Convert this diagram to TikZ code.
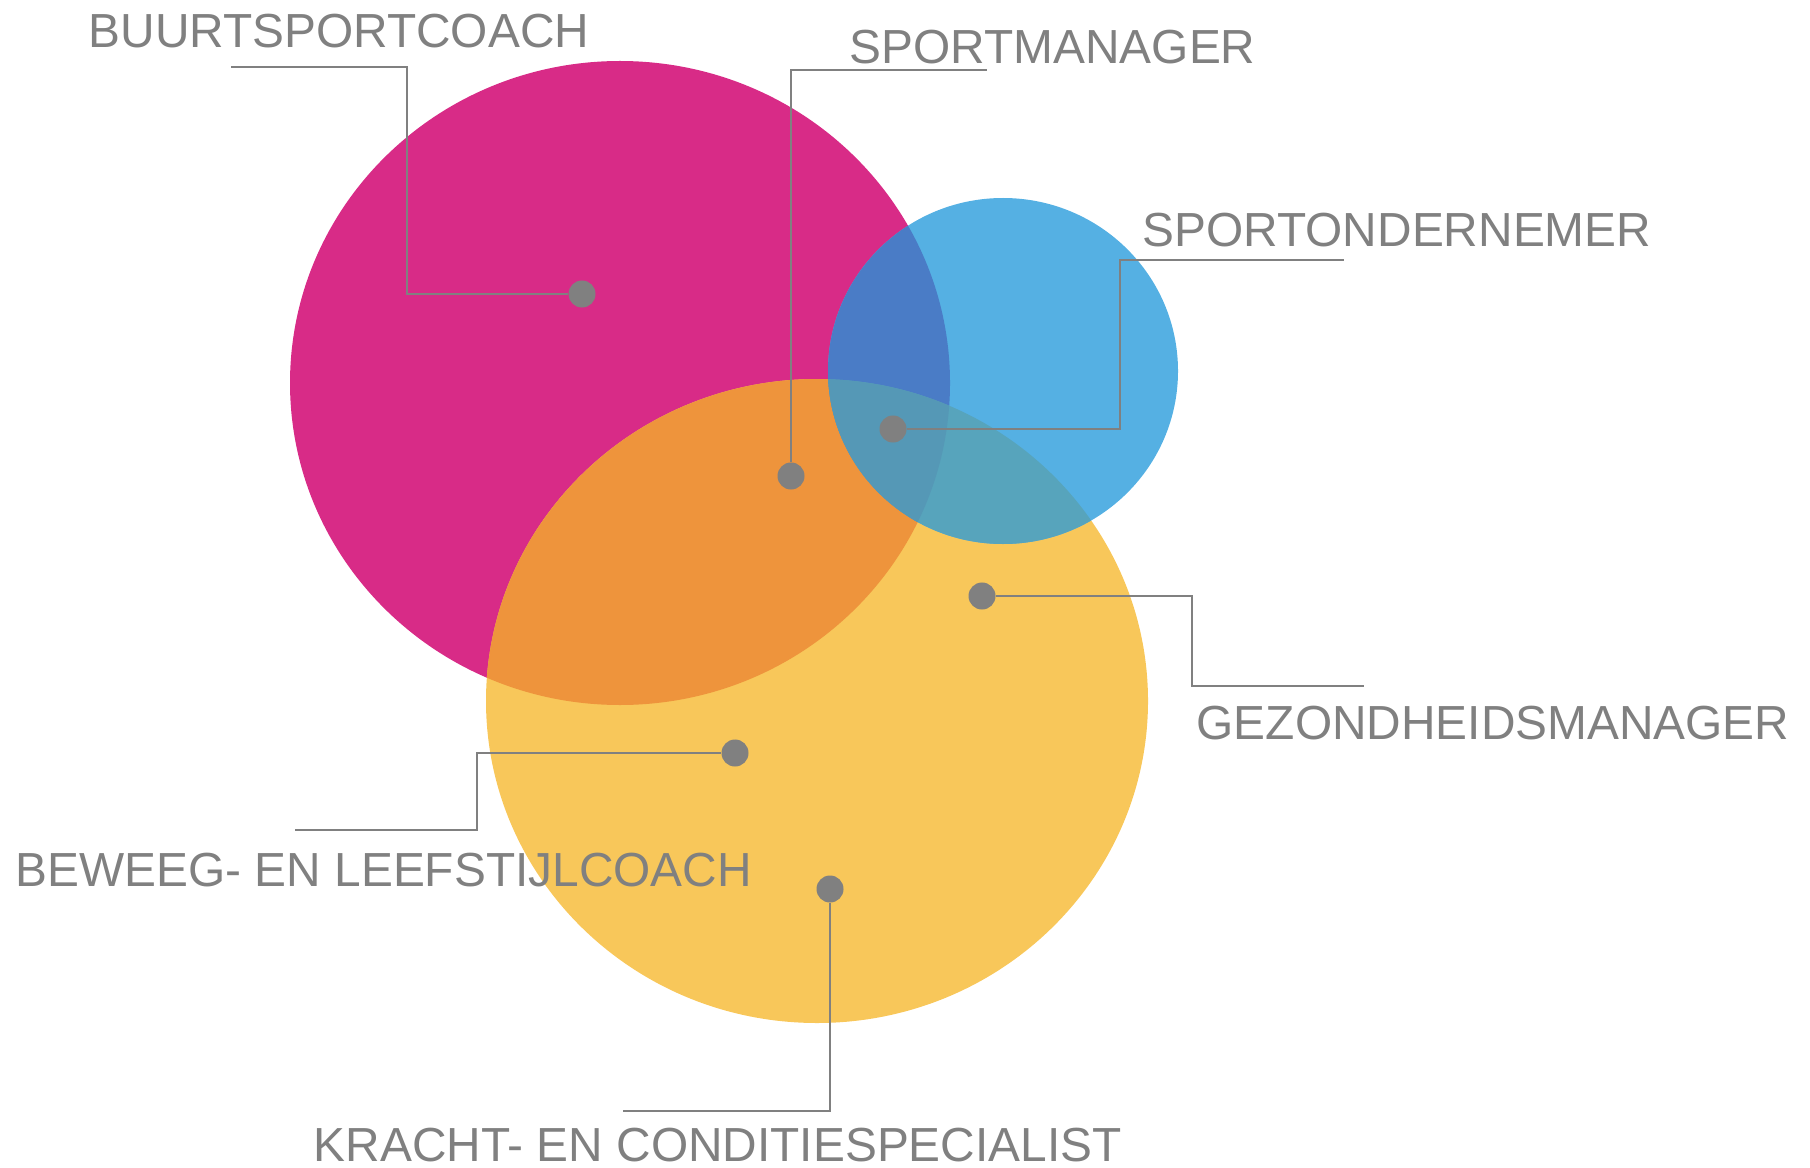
\documentclass[tikz,border=0pt]{standalone}
\usepackage{fontspec}
\setmainfont{Liberation Sans}
\usepackage{tikz}
\usetikzlibrary{positioning}
\definecolor{coachcolor}{RGB}{216, 43, 135}
\definecolor{ondernemercolor}{RGB}{85, 176, 227}
\definecolor{gezondcolor}{RGB}{248, 199, 90}
\definecolor{coachgezondcolor}{RGB}{238, 148, 60}
\definecolor{coachondernemercolor}{RGB}{74, 124, 198}
\definecolor{gezondondernemercolor}{RGB}{87, 164, 188}
\definecolor{middlecolor}{RGB}{85, 152, 182}
\definecolor{labelgray}{RGB}{128, 128, 128}
\tikzset{
    role dot/.style={circle, fill=labelgray, minimum size=0.27cm, inner sep=0pt},
    leader/.style={draw=labelgray, line width=0.8pt},
    role label/.style={anchor=base west, inner sep=0pt, text=labelgray, font=\fontsize{13.6}{16}\selectfont}
}
\def\coachellipse{(620,383) ellipse [x radius=330, y radius=322]}
\def\ondernemerellipse{(1003,371) ellipse [x radius=175, y radius=173]}
\def\gezondellipse{(817,701) ellipse [x radius=331, y radius=322]}

\begin{document}
\begin{tikzpicture}[x=0.01cm, y=-0.01cm]
    \useasboundingbox (0,0) rectangle (1810,1167);

    % The three fields
    \fill[coachcolor] \coachellipse;
    \fill[gezondcolor] \gezondellipse;
    \fill[ondernemercolor] \ondernemerellipse;

    % Overlaps
    \begin{scope}
        \clip \coachellipse;
        \fill[coachgezondcolor] \gezondellipse;
        \fill[coachondernemercolor] \ondernemerellipse;
    \end{scope}
    \begin{scope}
        \clip \gezondellipse;
        \fill[gezondondernemercolor] \ondernemerellipse;
        \clip \ondernemerellipse;
        \fill[middlecolor] \coachellipse;
    \end{scope}

    % Dots
    \node[role dot] (buurt-dot) at (582,294) {};
    \node[role dot] (sm-dot) at (791,476) {};
    \node[role dot] (so-dot) at (893,429) {};
    \node[role dot] (gz-dot) at (982,596) {};
    \node[role dot] (bw-dot) at (735,753) {};
    \node[role dot] (kr-dot) at (830,889) {};

    % Labels
    \node[role label] (buurt-label) at (88,48) {BUURTSPORTCOACH};
    \node[role label] (sm-label) at (849,64) {SPORTMANAGER};
    \node[role label] (so-label) at (1142,247) {SPORTONDERNEMER};
    \node[role label] (gz-label) at (1196,739) {GEZONDHEIDSMANAGER};
    \node[role label] (bw-label) at (15,886) {BEWEEG- EN LEEFSTIJLCOACH};
    \node[role label] (kr-label) at (313,1161) {KRACHT- EN CONDITIESPECIALIST};

    % Leader lines
    \coordinate (buurt-bend) at (407,67);
    \coordinate (buurt-end) at (231,67);
    \coordinate (sm-end) at (987,70);
    \coordinate (so-bend) at (1120,260);
    \coordinate (so-end) at (1344,260);
    \coordinate (gz-bend) at (1192,686);
    \coordinate (gz-end) at (1364,686);
    \coordinate (bw-bend) at (477,830);
    \coordinate (bw-end) at (295,830);
    \coordinate (kr-end) at (623,1111);

    \draw[leader] (buurt-dot) -| (buurt-bend) -- (buurt-end);
    \draw[leader] (sm-dot) |- (sm-end);
    \draw[leader] (so-dot) -| (so-bend) -- (so-end);
    \draw[leader] (gz-dot) -| (gz-bend) -- (gz-end);
    \draw[leader] (bw-dot) -| (bw-bend) -- (bw-end);
    \draw[leader] (kr-dot) |- (kr-end);
\end{tikzpicture}
\end{document}
